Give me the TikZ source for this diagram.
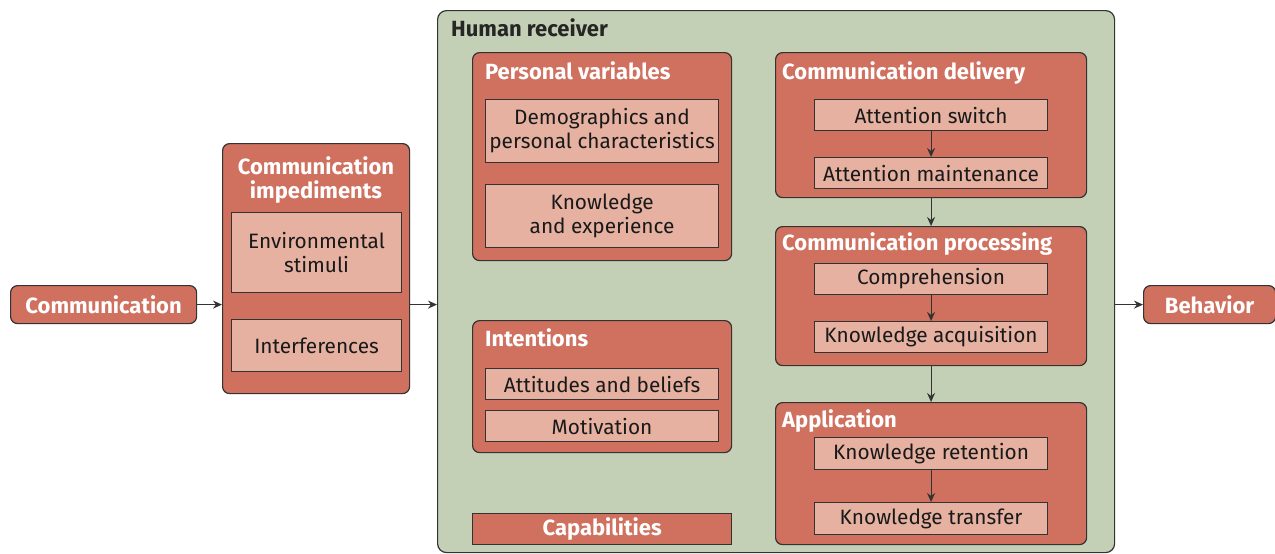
\documentclass[tikz,border=0pt]{standalone}
\usepackage{fontspec}
\setmainfont{Fira Sans}
\usetikzlibrary{arrows.meta}
\definecolor{boxred}{HTML}{D0705F}
\definecolor{itemred}{HTML}{E6B1A1}
\definecolor{recvgreen}{HTML}{C4D0B6}
\definecolor{edge}{HTML}{333333}
\newcommand{\itemfont}{\fontsize{20.8}{24}\selectfont}
\newcommand{\titlefont}{\fontsize{22}{24}\selectfont\bfseries}
\tikzset{
  outerbox/.style={draw=edge, line width=1.2pt, fill=recvgreen, rounded corners=9pt, anchor=north west, inner sep=0pt},
  groupbox/.style={draw=edge, line width=1.2pt, fill=boxred, rounded corners=7pt, anchor=north west, inner sep=0pt},
  itembox/.style={draw=edge, line width=1.1pt, fill=itemred, anchor=north west, inner sep=0pt, align=center,
    font=\itemfont, text=black!90},
  grouptitle/.style={anchor=base west, inner sep=0pt, font=\titlefont, text=white},
  flow/.style={draw=edge, line width=1.1pt, -{Stealth[length=9pt,width=8pt]}}
}
\begin{document}
\begin{tikzpicture}[x=1pt,y=-1pt]
\useasboundingbox (0,0) rectangle (1275,554);

% source and result
\node[groupbox, minimum width=186pt, minimum height=38pt, font=\titlefont, text=white] (comm) at (10,285) {Communication};
\node[groupbox, minimum width=132pt, minimum height=38pt, font=\titlefont, text=white] (behav) at (1143,285) {Behavior};

% impediments
\node[groupbox, minimum width=187pt, minimum height=250pt] (imped) at (222,143) {};
\node[anchor=center, inner sep=0pt, align=center, font=\titlefont, text=white] (impedT) at (316,180) {Communication\\impediments};
\node[itembox, minimum width=170pt, minimum height=80pt] (env) at (231,212) {Environmental\\stimuli};
\node[itembox, minimum width=170pt, minimum height=52pt] (interf) at (231,319) {Interferences};

% receiver
\node[outerbox, minimum width=677pt, minimum height=542pt] (recv) at (437,10) {};
\node[anchor=base west, inner sep=0pt, font=\titlefont, text=black!85] (recvT) at (451,36.5) {Human receiver};

% personal variables
\node[groupbox, minimum width=259pt, minimum height=208pt] (pers) at (472,52) {};
\node[grouptitle] (persT) at (485,79.5) {Personal variables};
\node[itembox, minimum width=233pt, minimum height=63pt] (demo) at (485,99) {Demographics and\\personal characteristics};
\node[itembox, minimum width=233pt, minimum height=63pt] (know) at (485,184) {Knowledge\\and experience};

% intentions
\node[groupbox, minimum width=259pt, minimum height=132pt] (intent) at (472,320) {};
\node[grouptitle] (intentT) at (485,346.5) {Intentions};
\node[itembox, minimum width=233pt, minimum height=31pt] (att) at (485,368) {Attitudes and beliefs};
\node[itembox, minimum width=233pt, minimum height=31pt] (motiv) at (485,410) {Motivation};

% capabilities
\node[draw=edge, line width=1.2pt, fill=boxred, anchor=north west, inner sep=0pt, minimum width=259pt, minimum height=31pt,
  font=\titlefont, text=white] (capab) at (472,513) {Capabilities};

% communication delivery
\node[groupbox, minimum width=311pt, minimum height=145pt] (deliv) at (775,52) {};
\node[grouptitle] (delivT) at (782,79.5) {Communication delivery};
\node[itembox, minimum width=233pt, minimum height=31pt] (attsw) at (814,99) {Attention switch};
\node[itembox, minimum width=233pt, minimum height=31pt] (attmt) at (814,157) {Attention maintenance};

% communication processing
\node[groupbox, minimum width=311pt, minimum height=139pt] (proc) at (775,226) {};
\node[grouptitle] (procT) at (782,250.5) {Communication processing};
\node[itembox, minimum width=233pt, minimum height=31pt] (compr) at (814,263) {Comprehension};
\node[itembox, minimum width=233pt, minimum height=31pt] (acq) at (814,321) {Knowledge acquisition};

% application
\node[groupbox, minimum width=311pt, minimum height=142pt] (appl) at (775,402) {};
\node[grouptitle] (applT) at (782,427.5) {Application};
\node[itembox, minimum width=233pt, minimum height=32pt] (ret) at (814,437) {Knowledge retention};
\node[itembox, minimum width=233pt, minimum height=32pt] (transf) at (814,502) {Knowledge transfer};

% flow
\draw[flow] (comm.east) -- (comm.east -| imped.west);
\draw[flow] (imped.east |- comm.east) -- (recv.west |- comm.east);
\draw[flow] (recv.east |- behav.west) -- (behav.west);
\draw[flow] (attsw.south) -- (attmt.north);
\draw[flow] (deliv.south -| attsw.south) -- (proc.north -| attsw.south);
\draw[flow] (compr.south) -- (acq.north);
\draw[flow] (proc.south -| attsw.south) -- (appl.north -| attsw.south);
\draw[flow] (ret.south) -- (transf.north);
\end{tikzpicture}
\end{document}
